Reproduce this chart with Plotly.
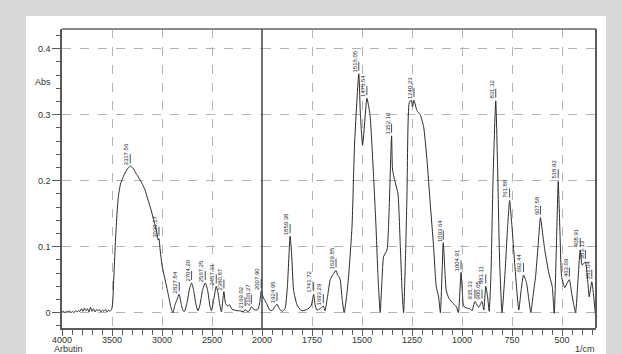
import plotly.graph_objects as go

# FTIR spectrum of arbutin (absorbance vs wavenumber, 1/cm)
WAVENUMBER = [
    4000, 3985, 3970, 3955, 3940, 3925, 3910, 3895, 3880, 3865, 3850, 3835,
    3820, 3805, 3790, 3775, 3760, 3745, 3730, 3715, 3700, 3685, 3670, 3655,
    3640, 3625, 3610, 3595, 3580, 3565, 3550, 3535, 3520, 3505,
    3495, 3480, 3465, 3450, 3435, 3415, 3390, 3365, 3340, 3317.56, 3290,
    3260, 3230, 3200, 3170, 3140, 3110, 3080, 3050, 3038, 3030.17, 3020,
    3000, 2975, 2950, 2925, 2905, 2890, 2870, 2850, 2827.84, 2810, 2790,
    2775, 2750, 2725, 2704.20, 2685, 2660, 2640, 2620, 2595, 2567.25, 2545,
    2520, 2505, 2485, 2457.31, 2440, 2420, 2405, 2393, 2380.87, 2365, 2345,
    2325, 2300, 2275, 2250, 2225, 2200, 2180, 2169.02, 2150, 2125, 2106.27,
    2090, 2065, 2040, 2020, 2007.90, 2000,
    1992, 1977, 1962, 1950, 1938, 1924.95, 1915, 1900, 1885, 1873, 1859.38,
    1852, 1842, 1825, 1807, 1795, 1775, 1755, 1741.72, 1735, 1725, 1710,
    1693.29, 1685, 1672, 1659, 1645, 1629.85, 1622, 1616, 1609, 1599, 1589,
    1577, 1567, 1550, 1537, 1516.05, 1508, 1497, 1475.54, 1468, 1459, 1442,
    1430, 1420, 1409, 1400, 1392, 1375, 1365, 1352.10, 1347, 1332, 1320,
    1309, 1299, 1292, 1282, 1275, 1264, 1254, 1247, 1240.23, 1225, 1209,
    1192, 1175, 1159, 1142, 1129, 1117, 1108, 1093.64, 1085, 1079, 1066,
    1045, 1028, 1018, 1004.91, 998, 992, 977, 960, 950, 935.33, 917, 900.05,
    891, 881.11, 872, 864, 855, 845, 831.32, 822, 812, 800, 785, 772, 761.88,
    750, 738, 725, 716, 704, 692.44, 678, 668, 656, 645, 632, 620, 607.58,
    595, 586, 566, 549, 539, 528, 518.92, 510, 502, 486, 474, 463.09, 452,
    441, 432, 420, 408.91, 399, 383.13, 372, 364, 351.04, 340, 332,
]
ABSORBANCE = [
    0.001, 0.002, 0.000, 0.002, 0.001, 0.003, 0.000, 0.002, 0.000, 0.003, 0.001, 0.003,
    0.002, 0.006, 0.002, 0.007, 0.003, 0.006, 0.001, 0.008, 0.002, 0.006, 0.001, 0.005,
    0.003, 0.005, 0.001, 0.004, 0.002, 0.005, 0.001, 0.004, 0.002, 0.005,
    0.012, 0.060, 0.110, 0.150, 0.178, 0.195, 0.205, 0.213, 0.219, 0.222, 0.219,
    0.211, 0.204, 0.196, 0.186, 0.171, 0.156, 0.139, 0.120, 0.110, 0.112, 0.097,
    0.072, 0.054, 0.037, 0.018, 0.005, 0.000, 0.012, 0.020, 0.028, 0.015, 0.003,
    0.002, 0.015, 0.036, 0.045, 0.035, 0.012, 0.003, 0.012, 0.034, 0.045, 0.035,
    0.010, 0.003, 0.018, 0.040, 0.030, 0.010, 0.001, 0.018, 0.032, 0.014, 0.010,
    0.012, 0.005, 0.004, 0.003, 0.003, 0.002, 0.002, 0.005, 0.002, 0.003, 0.009,
    0.006, 0.004, 0.005, 0.018, 0.033, 0.029,
    0.022, 0.014, 0.004, 0.003, 0.008, 0.013, 0.007, 0.002, 0.006, 0.040, 0.116,
    0.090, 0.034, 0.012, 0.004, 0.003, 0.005, 0.010, 0.028, 0.012, 0.004, 0.006,
    0.010, 0.003, 0.025, 0.050, 0.058, 0.064, 0.057, 0.055, 0.050, 0.020, 0.000,
    0.025, 0.055, 0.130, 0.257, 0.362, 0.300, 0.254, 0.325, 0.315, 0.297, 0.206,
    0.130, 0.055, 0.000, 0.050, 0.085, 0.095, 0.150, 0.268, 0.216, 0.195, 0.180,
    0.105, 0.030, 0.000, 0.090, 0.180, 0.318, 0.322, 0.312, 0.322, 0.306, 0.300,
    0.282, 0.231, 0.166, 0.100, 0.040, 0.024, 0.000, 0.106, 0.060, 0.034, 0.022,
    0.014, 0.009, 0.000, 0.061, 0.030, 0.010, 0.007, 0.006, 0.003, 0.017, 0.008, 0.017,
    0.004, 0.040, 0.024, 0.002, 0.060, 0.200, 0.321, 0.220, 0.080, 0.000, 0.060, 0.130, 0.170,
    0.130, 0.080, 0.030, 0.004, 0.035, 0.057, 0.046, 0.025, 0.000, 0.025, 0.055, 0.100, 0.144,
    0.115, 0.095, 0.060, 0.040, -0.001, 0.100, 0.199, 0.120, 0.055, 0.038, 0.045, 0.050, 0.030,
    0.012, 0.000, 0.050, 0.095, 0.072, 0.077, 0.050, 0.024, 0.047, 0.020, -0.006,
]

# Labelled peak positions (1/cm)
PEAKS = [
    3317.56, 3030.17, 2827.84, 2704.20, 2567.25, 2457.31, 2380.87, 2169.02,
    2106.27, 2007.90, 1924.95, 1859.38, 1741.72, 1693.29, 1629.85, 1516.05,
    1475.54, 1352.10, 1240.23, 1093.64, 1004.91, 935.33, 900.05, 881.11,
    831.32, 761.88, 692.44, 607.58, 518.92, 463.09, 408.91, 383.13, 351.04,
]

# The wavenumber axis has a scale change at 2000: 500/div above, 250/div below
HIGH_TICKS = [4000, 3500, 3000, 2500, 2000]
LOW_TICKS = [1750, 1500, 1250, 1000, 750, 500]
ABS_TICKS = [0, 0.1, 0.2, 0.3, 0.4]

W, H = 622, 354
ML, MR, MT, MB = 62, 26, 29, 26
PW = W - ML - MR
PH = H - MT - MB
HIGH_RANGE = [4000, 2000]
LOW_RANGE = [2000, 330]
split = (HIGH_RANGE[0] - HIGH_RANGE[1]) / 10 / PW  # 10 (1/cm)/px above 2000

LINE = "#2b2b2b"
AXIS = "#5a5a5a"
FRAME = "#8a8a8a"
GRID = "#b4b4b4"
FONT = "Liberation Sans, Arial, sans-serif"

hi = [(w, a) for w, a in zip(WAVENUMBER, ABSORBANCE) if w >= 2000]
lo = [(w, a) for w, a in zip(WAVENUMBER, ABSORBANCE) if w <= 2000]

fig = go.Figure()
fig.add_trace(go.Scatter(
    x=[p[0] for p in hi], y=[p[1] for p in hi], mode="lines",
    line=dict(color=LINE, width=1, shape="spline", smoothing=0.5),
    xaxis="x", yaxis="y", hoverinfo="skip", showlegend=False,
))
fig.add_trace(go.Scatter(
    x=[p[0] for p in lo], y=[p[1] for p in lo], mode="lines",
    line=dict(color=LINE, width=1, shape="spline", smoothing=0.5),
    xaxis="x2", yaxis="y", hoverinfo="skip", showlegend=False,
))

tickfont = dict(family=FONT, size=9, color="#333333")
common_x = dict(
    ticks="outside", ticklen=6, tickwidth=1, tickcolor=AXIS, ticklabelstandoff=-4,
    showline=True, linecolor=AXIS, linewidth=1.5,
    showgrid=True, gridcolor=GRID, griddash="dash", gridwidth=1,
    zeroline=False, tickfont=tickfont, anchor="y", automargin=False,
)
fig.update_layout(
    template="none",
    width=W, height=H,
    margin=dict(l=ML, r=MR, t=MT, b=MB, autoexpand=False),
    paper_bgcolor="#d9d9d9", plot_bgcolor="rgba(0,0,0,0)",
    xaxis=dict(
        range=HIGH_RANGE, domain=[0, split], tickmode="array",
        tickvals=HIGH_TICKS, ticktext=[str(t) for t in HIGH_TICKS],
        minor=dict(tickmode="linear", tick0=0, dtick=100, ticks="outside",
                   ticklen=5, tickcolor=AXIS, showgrid=False),
        **common_x,
    ),
    xaxis2=dict(
        range=LOW_RANGE, domain=[split, 1], tickmode="array",
        tickvals=LOW_TICKS, ticktext=[str(t) for t in LOW_TICKS],
        minor=dict(tickmode="linear", tick0=0, dtick=50, ticks="outside",
                   ticklen=5, tickcolor=AXIS, showgrid=False),
        **common_x,
    ),
    yaxis=dict(
        range=[-0.0232, 0.4298], tickmode="array", tickvals=ABS_TICKS,
        ticktext=["0", "0.1", "0.2", "0.3", "0.4"],
        ticks="outside", ticklen=8, tickwidth=1, tickcolor=AXIS,
        minor=dict(tickmode="linear", tick0=0, dtick=0.02, ticks="outside",
                   ticklen=4, tickcolor=AXIS, showgrid=False),
        showline=True, linecolor=AXIS, linewidth=1.5,
        showgrid=True, gridcolor=GRID, griddash="dash", gridwidth=1,
        zeroline=False, tickfont=tickfont, anchor="x", automargin=False,
    ),
)

# white panel behind the chart, plot frame and the 2000 scale-change line
fig.add_shape(type="rect", xref="paper", yref="paper",
              x0=(26 - ML) / PW, x1=(606 - ML) / PW,
              y0=-0.12, y1=(H - MB - 16) / PH,
              fillcolor="white", line_width=0, layer="below")
fig.add_shape(type="line", xref="paper", yref="paper", x0=0, x1=1, y0=1, y1=1,
              line=dict(color=FRAME, width=2))
fig.add_shape(type="line", xref="paper", yref="paper", x0=1, x1=1, y0=0, y1=1,
              line=dict(color=AXIS, width=2))
fig.add_shape(type="line", xref="paper", yref="paper", x0=split, x1=split,
              y0=0, y1=1, line=dict(color="#444444", width=1.5))

# peak labels
lookup = dict(zip(WAVENUMBER, ABSORBANCE))
for wn in PEAKS:
    fig.add_annotation(
        x=wn, y=lookup[wn], xref="x" if wn >= 2000 else "x2", yref="y",
        text=f"{wn:.2f}", textangle=-90, showarrow=True, arrowhead=0,
        arrowwidth=0.8, arrowcolor="#222222", ax=0, ay=-12, standoff=3,
        yanchor="bottom", xanchor="center", borderpad=0,
        font=dict(family=FONT, size=6, color="#1f1f2f"),
    )

label_font = dict(family=FONT, size=9, color="#333333")
fig.add_annotation(x=(52 - ML) / PW, y=(H - MB - 82) / PH, xref="paper", yref="paper",
                   text="Abs", showarrow=False, xanchor="right", yanchor="middle",
                   borderpad=0, font=label_font)
fig.add_annotation(x=(53 - ML) / PW, y=(H - MB - 349) / PH, xref="paper", yref="paper",
                   text="Arbutin", showarrow=False, xanchor="left", yanchor="middle",
                   borderpad=0, font=label_font)
fig.add_annotation(x=1, y=(H - MB - 349) / PH, xref="paper", yref="paper",
                   text="1/cm", showarrow=False, xanchor="right", yanchor="middle",
                   borderpad=0, font=label_font)

fig.write_html("out.html")
